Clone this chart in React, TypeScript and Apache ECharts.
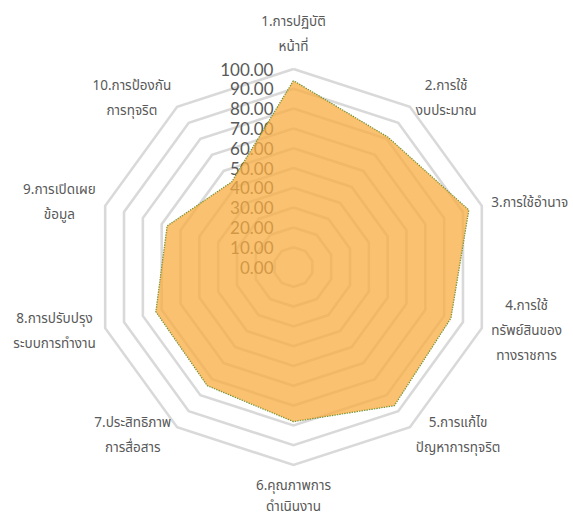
import React, { useEffect, useRef } from "react";
import * as echarts from "echarts";

const indicatorNames = [
  "1.การปฏิบัติ\nหน้าที่",
  "2.การใช้\nงบประมาณ",
  "3.การใช้อำนาจ",
  "4.การใช้\nทรัพย์สินของ\nทางราชการ",
  "5.การแก้ไข\nปัญหาการทุจริต",
  "6.คุณภาพการ\nดำเนินงาน",
  "7.ประสิทธิภาพ\nการสื่อสาร",
  "8.การปรับปรุง\nระบบการทำงาน",
  "9.การเปิดเผย\nข้อมูล",
  "10.การป้องกัน\nการทุจริต",
];
const scores = [94, 81, 93, 83.5, 86.5, 78, 74, 73, 67, 53];
const axisMax = 100;
const axisStep = 10;

// ECharts lays radar axes counter-clockwise; reorder so they run clockwise from the top.
const clockwiseOrder = indicatorNames.map((_, i) => (i === 0 ? 0 : indicatorNames.length - i));

const thaiFont = "'Noto Sans Thai', Tahoma, 'DejaVu Sans', sans-serif";
const bottomName = indicatorNames[5];

export default function App() {
  const ref = useRef<HTMLDivElement>(null);
  useEffect(() => {
    if (!ref.current) return;
    const chart = echarts.init(ref.current, null, { renderer: "svg" });
    const nameStyle = {
      align: "center",
      color: "#595959",
      fontSize: 13.5,
      fontFamily: thaiFont,
    };
    chart.setOption({
      animation: false,
      backgroundColor: "#ffffff",
      radar: {
        center: [293.5, 267],
        radius: 198,
        startAngle: 90,
        shape: "polygon",
        splitNumber: axisMax / axisStep,
        nameGap: 10,
        axisName: {
          color: "#595959",
          fontSize: 13.5,
          lineHeight: 25,
          fontFamily: thaiFont,
          formatter: (name: string) => {
            const key = name === bottomName ? "b" : "c";
            return name
              .split("\n")
              .map((s) => `{${key}|${s}}`)
              .join("\n");
          },
          rich: {
            c: { ...nameStyle, lineHeight: 25 },
            b: { ...nameStyle, lineHeight: 21 },
          },
        },
        indicator: clockwiseOrder.map((idx, k) => ({
          name: indicatorNames[idx],
          min: 0,
          max: axisMax,
          axisLabel:
            k === 0
              ? {
                  show: true,
                  color: "#595959",
                  fontSize: 17,
                  fontFamily: "Lato, 'Liberation Sans', sans-serif",
                  margin: 20,
                  showMinLabel: true,
                  showMaxLabel: true,
                  formatter: (v: number) => v.toFixed(2),
                }
              : { show: false },
        })),
        axisLine: { show: false },
        axisTick: { show: false },
        axisLabel: { show: false },
        splitArea: { show: false },
        splitLine: { lineStyle: { color: "#d9d9d9", width: 2.6 } },
      },
      series: [
        {
          type: "radar",
          symbol: "none",
          data: [
            {
              value: clockwiseOrder.map((idx) => scores[idx]),
              lineStyle: { color: "#5E8C2E", width: 1.5, type: [1.5, 1] },
              areaStyle: { color: "#F8AC40", opacity: 0.75 },
            },
          ],
        },
      ],
    });
    return () => chart.dispose();
  }, []);
  return (
    <div
      ref={ref}
      style={{ position: "fixed", left: 0, top: 0, width: 573, height: 520 }}
    />
  );
}
